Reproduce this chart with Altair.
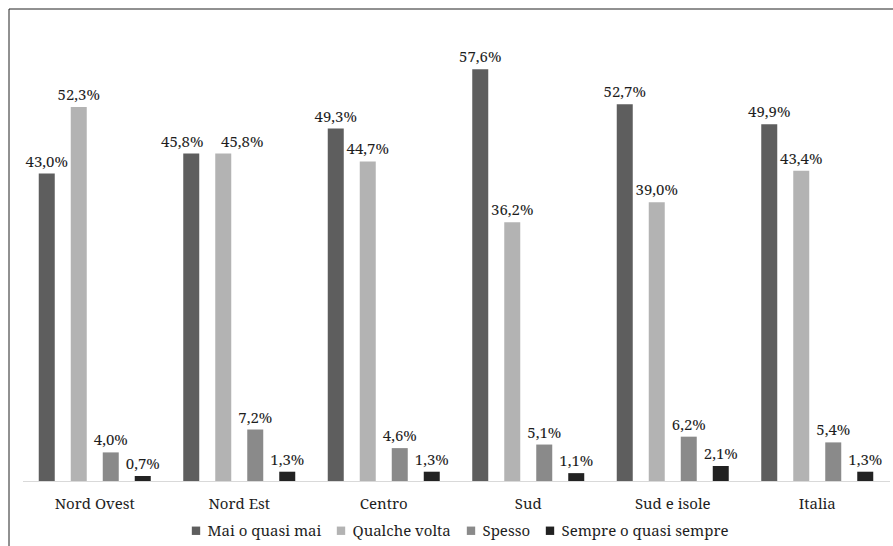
import altair as alt
import pandas as pd

# Survey results by area (percentages)
regions = ["Nord Ovest", "Nord Est", "Centro", "Sud", "Sud e isole", "Italia"]
series = ["Mai o quasi mai", "Qualche volta", "Spesso", "Sempre o quasi sempre"]
mai = [43.0, 45.8, 49.3, 57.6, 52.7, 49.9]
qualche = [52.3, 45.8, 44.7, 36.2, 39.0, 43.4]
spesso = [4.0, 7.2, 4.6, 5.1, 6.2, 5.4]
sempre = [0.7, 1.3, 1.3, 1.1, 2.1, 1.3]
colors = ["#5e5e5e", "#b3b3b3", "#8a8a8a", "#222222"]

rows = []
for name, vals in zip(series, [mai, qualche, spesso, sempre]):
    for reg, v in zip(regions, vals):
        rows.append({"area": reg, "serie": name, "valore": v})
df = pd.DataFrame(rows)

FONT = "Noto Serif"
FS = 15
TXT = "#1e1e1e"

x_enc = alt.X(
    "area:N",
    sort=regions,
    title=None,
    scale=alt.Scale(paddingInner=0.1142, paddingOuter=0.0571),
    axis=alt.Axis(
        labelAngle=0,
        labelFont=FONT,
        labelFontSize=FS,
        labelColor=TXT,
        labelPadding=15,
        ticks=False,
        tickSize=0,
        domainColor="#d9d9d9",
        domainWidth=1,
        grid=False,
    ),
)
xoff_enc = alt.XOffset(
    "serie:N", sort=series, scale=alt.Scale(paddingInner=0.5, paddingOuter=0.25)
)
y_enc = alt.Y(
    "valore:Q",
    title=None,
    scale=alt.Scale(domain=[0, 60], nice=False),
    axis=None,
)

base = alt.Chart(df)

bars = base.mark_bar().encode(
    x=x_enc,
    xOffset=xoff_enc,
    y=y_enc,
    color=alt.Color(
        "serie:N",
        sort=series,
        scale=alt.Scale(domain=series, range=colors),
        legend=alt.Legend(
            title=None,
            orient="none",
            direction="horizontal",
            legendX=166,
            legendY=471,
            symbolType="square",
            symbolSize=70,
            symbolStrokeWidth=0,
            labelFont=FONT,
            labelFontSize=FS,
            labelColor=TXT,
            labelOffset=4,
            labelLimit=400,
            columnPadding=12,
        ),
    ),
)

# Value labels, e.g. "43,0%"; the two equal Nord Est values are pushed apart
labelled = base.transform_calculate(
    etichetta="replace(format(datum.valore, '.1f'), '.', ',') + '%'",
    spostata="datum.area === 'Nord Est' && (datum.serie === 'Mai o quasi mai' || datum.serie === 'Qualche volta')",
)
text_style = dict(font=FONT, fontSize=FS, color=TXT, baseline="alphabetic", dy=-7)
text_enc = dict(x=x_enc, xOffset=xoff_enc, y=y_enc, text="etichetta:N")

labels = labelled.transform_filter("!datum.spostata").mark_text(**text_style).encode(**text_enc)
labels_left = (
    labelled.transform_filter("datum.spostata && datum.serie === 'Mai o quasi mai'")
    .mark_text(dx=-9, **text_style)
    .encode(**text_enc)
)
labels_right = (
    labelled.transform_filter("datum.spostata && datum.serie === 'Qualche volta'")
    .mark_text(dx=19, **text_style)
    .encode(**text_enc)
)

# Frame lines along the top and left edges of the figure
frame_top = alt.Chart(pd.DataFrame({"k": [0]})).mark_rule(
    color="#222222", strokeWidth=1
).encode(x=alt.value(-13.5), x2=alt.value(880), y=alt.value(-43))
frame_left = alt.Chart(pd.DataFrame({"k": [0]})).mark_rule(
    color="#222222", strokeWidth=1
).encode(x=alt.value(-13.5), y=alt.value(-43), y2=alt.value(500))

chart = (
    alt.layer(bars, labels, labels_left, labels_right, frame_top, frame_left)
    .properties(
        width=867,
        height=429,
        autosize=alt.AutoSizeParams(type="none"),
        padding={"left": 22.5, "top": 52, "right": 3.5, "bottom": 65},
        background="white",
    )
    .configure_view(stroke=None)
)

chart.save("out.html", embed_options={"renderer": "svg", "actions": False})
